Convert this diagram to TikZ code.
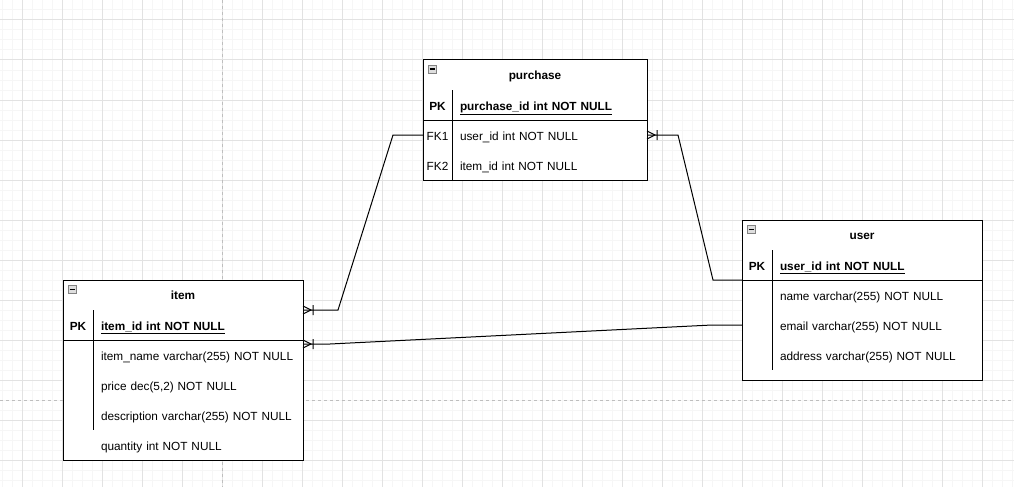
\documentclass[tikz,border=0pt,12pt]{standalone}
\usepackage{fontspec}
\setmainfont{Liberation Sans}
\usetikzlibrary{positioning}
\definecolor{gridminor}{RGB}{246,246,246}
\definecolor{gridmajor}{RGB}{226,226,226}
\definecolor{pagebreak}{RGB}{190,190,190}
\definecolor{iconfill}{RGB}{222,222,222}
\definecolor{iconedge}{RGB}{130,130,130}

\tikzset{
  tblhead/.style={draw, fill=white, minimum height=30pt, inner sep=0pt, outer sep=0pt,
    text height=11pt, text depth=3pt, font=\bfseries},
  keycell/.style={fill=white, minimum height=30pt, inner sep=0pt, outer sep=0pt,
    text height=12pt, text depth=2pt},
  fieldcell/.style={fill=white, minimum height=30pt, inner xsep=8pt, inner ysep=0pt, outer sep=0pt,
    text height=12pt, text depth=2pt, align=left,
    execute at begin node={\leavevmode\hbox\bgroup}, execute at end node={\egroup}},
  iconbox/.style={draw=iconedge, fill=iconfill, line width=0.7pt},
  pics/crowfoot/.style={code={\draw (0,-4) -- (8,0) -- (0,4) (10,-5) -- (10,5);}}
}

\begin{document}
\begin{tikzpicture}[x=1pt, y=-1pt, line width=1pt]
\fontsize{11.8}{14}\selectfont
\useasboundingbox (0,0) rectangle (1014,487);
\fill[white] (0,0) rectangle (1014,487);
% grid
\foreach \x in {2,12,...,1012} \draw[gridminor] (\x,0) -- (\x,487);
\foreach \y in {0,10,...,480} \draw[gridminor] (0,\y) -- (1014,\y);
\foreach \x in {22,62,...,1002} \draw[gridmajor] (\x,0) -- (\x,487);
\foreach \y in {20,60,...,460} \draw[gridmajor] (0,\y) -- (1014,\y);
\draw[pagebreak, dash pattern=on 3pt off 3pt] (222,0) -- (222,487) (0,400) -- (1014,400);

% purchase
\node[tblhead, minimum width=224pt] (purchase) at (535,75) {purchase};
\node[keycell, minimum width=29pt, font=\bfseries, below right=0pt and 0pt of purchase.south west] (pu-pkk) {PK};
\node[fieldcell, text width=179pt, font=\bfseries, right=0pt of pu-pkk] (pu-pk) {\underline{purchase\_id int NOT NULL}};
\node[keycell, minimum width=29pt, below=0pt of pu-pkk] (pu-fk1k) {FK1};
\node[fieldcell, text width=179pt, right=0pt of pu-fk1k] (pu-fk1) {user\_id int NOT NULL};
\node[keycell, minimum width=29pt, below=0pt of pu-fk1k] (pu-fk2k) {FK2};
\node[fieldcell, text width=179pt, right=0pt of pu-fk2k] (pu-fk2) {item\_id int NOT NULL};
\draw (purchase.north west) rectangle (pu-fk2.south east);
\draw (pu-pkk.south west) -- (pu-pk.south east);
\draw (pu-pkk.north east) -- (pu-fk2k.south east);

% item
\node[tblhead, minimum width=240pt] (item) at (183,295) {item};
\node[keycell, minimum width=30pt, font=\bfseries, below right=0pt and 0pt of item.south west] (it-pkk) {PK};
\node[fieldcell, text width=194pt, font=\bfseries, right=0pt of it-pkk] (it-pk) {\underline{item\_id int NOT NULL}};
\node[keycell, minimum width=30pt, below=0pt of it-pkk] (it-namek) {};
\node[fieldcell, text width=194pt, right=0pt of it-namek] (it-name) {item\_name varchar(255) NOT NULL};
\node[keycell, minimum width=30pt, below=0pt of it-namek] (it-pricek) {};
\node[fieldcell, text width=194pt, right=0pt of it-pricek] (it-price) {price dec(5,2) NOT NULL};
\node[keycell, minimum width=30pt, below=0pt of it-pricek] (it-desck) {};
\node[fieldcell, text width=194pt, right=0pt of it-desck] (it-desc) {description varchar(255) NOT NULL};
\node[keycell, minimum width=30pt, below=0pt of it-desck] (it-qtyk) {};
\node[fieldcell, text width=194pt, right=0pt of it-qtyk] (it-qty) {quantity int NOT NULL};
\draw (item.north west) rectangle (it-qty.south east);
\draw (it-pkk.south west) -- (it-pk.south east);
\draw (it-pkk.north east) -- (it-desck.south east);

% user
\node[tblhead, minimum width=240pt] (user) at (862,235) {user};
\node[keycell, minimum width=30pt, font=\bfseries, below right=0pt and 0pt of user.south west] (us-pkk) {PK};
\node[fieldcell, text width=194pt, font=\bfseries, right=0pt of us-pkk] (us-pk) {\underline{user\_id int NOT NULL}};
\node[keycell, minimum width=30pt, below=0pt of us-pkk] (us-namek) {};
\node[fieldcell, text width=194pt, right=0pt of us-namek] (us-name) {name varchar(255) NOT NULL};
\node[keycell, minimum width=30pt, below=0pt of us-namek] (us-emailk) {};
\node[fieldcell, text width=194pt, right=0pt of us-emailk] (us-email) {email varchar(255) NOT NULL};
\node[keycell, minimum width=30pt, below=0pt of us-emailk] (us-addrk) {};
\node[fieldcell, text width=194pt, right=0pt of us-addrk] (us-addr) {address varchar(255) NOT NULL};
\node[keycell, minimum width=240pt, minimum height=10pt, text height=0pt, text depth=0pt,
  below right=0pt and 0pt of us-addrk.south west] (us-pad) {};
\draw (user.north west) rectangle (us-pad.south east);
\draw (us-pkk.south west) -- (us-pk.south east);
\draw (us-pkk.north east) -- (us-addrk.south east);

% collapse icons
\foreach \t in {purchase,item,user} {
  \draw[iconbox] ([shift={(5,5)}]\t.north west) rectangle ++(8,8);
  \draw ([shift={(6.5,9)}]\t.north west) -- ++(5,0);
}

% relations
\draw (pu-fk1k.west) -- ++(-30,0) -- ([xshift=35pt]item.south east) -- (item.south east);
\pic at (item.south east) {crowfoot};
\draw (pu-fk1.east) -- ++(31,0) -- ([xshift=-29pt]us-pkk.south west) -- (us-pkk.south west);
\pic at (pu-fk1.east) {crowfoot};
\draw ([yshift=-4pt]it-name.north east) -- ++(27,0) -- ([xshift=-30pt]us-emailk.west) -- (us-emailk.west);
\pic at ([yshift=-4pt]it-name.north east) {crowfoot};
\end{tikzpicture}
\end{document}
